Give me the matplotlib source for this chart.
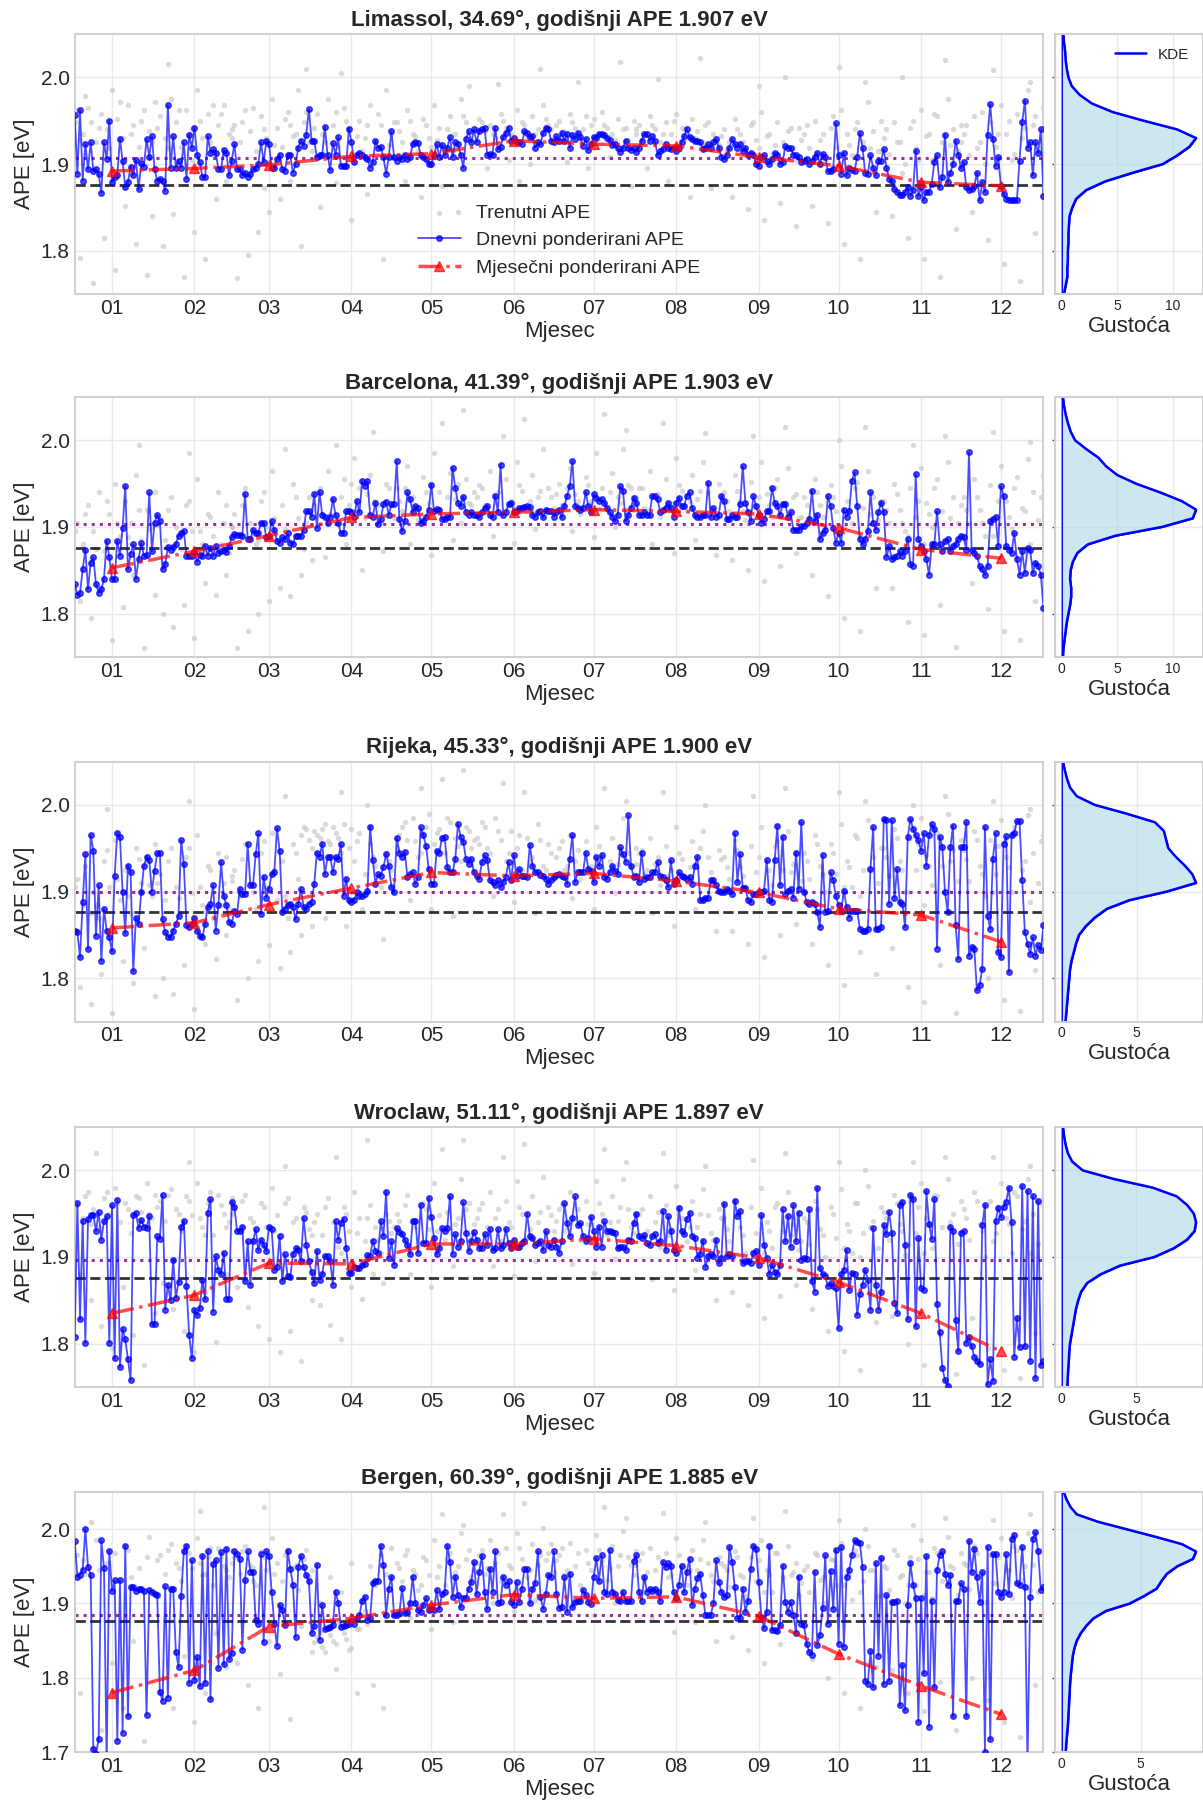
import numpy as np
import matplotlib.pyplot as plt
from matplotlib.ticker import MultipleLocator

plt.style.use('seaborn-v0_8-whitegrid')
plt.rcParams['font.family'] = ['Liberation Sans', 'DejaVu Sans']

# --- data -------------------------------------------------------------------
cities = ['Limassol', 'Barcelona', 'Rijeka', 'Wroclaw', 'Bergen']
latitudes = [34.69, 41.39, 45.33, 51.11, 60.39]
annual_ape = [1.907, 1.903, 1.900, 1.897, 1.885]
reference_ape = 1.876
ape_bottom = [1.75, 1.75, 1.75, 1.75, 1.70]

# day of year (0 = 1 Jan) of the 15th of every month
month_days = [14, 45, 73, 104, 134, 165, 195, 226, 257, 287, 318, 348]
month_labels = ['01', '02', '03', '04', '05', '06', '07', '08', '09', '10', '11', '12']

limassol_daily = [
    1.957, 1.889, 1.962, 1.881, 1.923, 1.894, 1.925, 1.892, 1.894, 1.889, 1.867, 1.925, 1.906, 1.950, 1.879, 1.885,
    1.887, 1.929, 1.903, 1.873, 1.879, 1.897, 1.887, 1.905, 1.871, 1.901, 1.897, 1.929, 1.908, 1.932, 1.894,
    1.881, 1.883, 1.880, 1.869, 1.968, 1.896, 1.932, 1.896, 1.904, 1.896, 1.925, 1.883, 1.934, 1.919, 1.942, 1.911,
    1.902, 1.885, 1.885, 1.932, 1.913, 1.917, 1.913, 1.894, 1.894, 1.916, 1.913, 1.887,
    1.904, 1.923, 1.894, 1.894, 1.887, 1.890, 1.885, 1.889, 1.894, 1.896, 1.900, 1.925, 1.902, 1.927, 1.923, 1.896,
    1.896, 1.906, 1.911, 1.894, 1.892, 1.911, 1.910, 1.890, 1.900, 1.919, 1.927, 1.921, 1.934, 1.963, 1.927,
    1.927, 1.908, 1.911, 1.911, 1.943, 1.911, 1.893, 1.924, 1.911, 1.931, 1.898, 1.898, 1.898, 1.941, 1.925, 1.902,
    1.910, 1.913, 1.910, 1.908, 1.906, 1.896, 1.902, 1.927, 1.919, 1.920, 1.908, 1.889, 1.908, 1.938,
    1.908, 1.904, 1.908, 1.906, 1.911, 1.906, 1.908, 1.923, 1.925, 1.924, 1.910, 1.908, 1.906, 1.900, 1.900, 1.910,
    1.923, 1.908, 1.922, 1.910, 1.919, 1.931, 1.908, 1.925, 1.923, 1.911, 1.896, 1.929, 1.938, 1.925, 1.940,
    1.925, 1.938, 1.940, 1.942, 1.911, 1.912, 1.911, 1.942, 1.917, 1.920, 1.931, 1.936, 1.942, 1.927, 1.930, 1.925,
    1.925, 1.923, 1.938, 1.936, 1.931, 1.932, 1.919, 1.925, 1.923, 1.936, 1.942, 1.940, 1.927, 1.925,
    1.932, 1.927, 1.936, 1.927, 1.935, 1.919, 1.934, 1.929, 1.936, 1.931, 1.921, 1.929, 1.916, 1.923, 1.931, 1.930,
    1.935, 1.935, 1.933, 1.930, 1.928, 1.922, 1.923, 1.918, 1.914, 1.918, 1.927, 1.918, 1.916, 1.918, 1.914,
    1.919, 1.927, 1.935, 1.935, 1.927, 1.932, 1.927, 1.910, 1.915, 1.917, 1.923, 1.919, 1.917, 1.919, 1.915, 1.919,
    1.925, 1.932, 1.941, 1.931, 1.929, 1.927, 1.927, 1.925, 1.917, 1.919, 1.923, 1.919, 1.925, 1.929, 1.919,
    1.908, 1.906, 1.911, 1.919, 1.929, 1.923, 1.919, 1.923, 1.915, 1.919, 1.911, 1.913, 1.910, 1.900, 1.898, 1.908,
    1.910, 1.904, 1.900, 1.906, 1.913, 1.910, 1.900, 1.902, 1.921, 1.919, 1.919, 1.911, 1.910, 1.908,
    1.902, 1.904, 1.906, 1.900, 1.904, 1.908, 1.913, 1.900, 1.912, 1.908, 1.892, 1.892, 1.894, 1.947, 1.910, 1.889,
    1.913, 1.887, 1.896, 1.893, 1.892, 1.908, 1.936, 1.919, 1.890, 1.889, 1.910, 1.896, 1.887, 1.904, 1.904,
    1.917, 1.896, 1.883, 1.881, 1.871, 1.868, 1.864, 1.864, 1.868, 1.873, 1.863, 1.870, 1.915, 1.863, 1.873, 1.858,
    1.868, 1.868, 1.877, 1.902, 1.910, 1.873, 1.885, 1.934, 1.879, 1.890, 1.900, 1.927, 1.911, 1.895,
    1.902, 1.873, 1.870, 1.871, 1.875, 1.890, 1.858, 1.879, 1.868, 1.934, 1.969, 1.929, 1.898, 1.908, 1.875, 1.866,
    1.860, 1.859, 1.858, 1.858, 1.858, 1.904, 1.948, 1.973, 1.919, 1.925, 1.887, 1.925, 1.913, 1.940, 1.863,
]
barcelona_daily = [
    1.834, 1.822, 1.824, 1.851, 1.874, 1.828, 1.859, 1.865, 1.834, 1.824, 1.828, 1.840, 1.884, 1.865, 1.840, 1.840,
    1.884, 1.867, 1.899, 1.947, 1.851, 1.869, 1.880, 1.840, 1.863, 1.881, 1.867, 1.868, 1.940, 1.872, 1.905,
    1.914, 1.907, 1.851, 1.857, 1.877, 1.874, 1.877, 1.880, 1.890, 1.893, 1.895, 1.867, 1.867, 1.867, 1.871, 1.860,
    1.868, 1.867, 1.878, 1.867, 1.876, 1.867, 1.878, 1.870, 1.872, 1.874, 1.871, 1.878,
    1.888, 1.892, 1.891, 1.891, 1.890, 1.938, 1.886, 1.886, 1.897, 1.893, 1.893, 1.905, 1.905, 1.888, 1.890, 1.907,
    1.897, 1.884, 1.882, 1.888, 1.886, 1.893, 1.882, 1.880, 1.890, 1.890, 1.890, 1.897, 1.918, 1.918, 1.912,
    1.938, 1.899, 1.940, 1.914, 1.912, 1.905, 1.912, 1.932, 1.914, 1.905, 1.893, 1.893, 1.918, 1.918, 1.917, 1.912,
    1.930, 1.917, 1.953, 1.947, 1.953, 1.914, 1.912, 1.928, 1.903, 1.909, 1.926, 1.929, 1.914, 1.926,
    1.926, 1.976, 1.909, 1.895, 1.907, 1.940, 1.932, 1.917, 1.924, 1.922, 1.905, 1.907, 1.912, 1.920, 1.949, 1.918,
    1.921, 1.920, 1.909, 1.909, 1.911, 1.912, 1.968, 1.945, 1.928, 1.924, 1.935, 1.917, 1.914, 1.917, 1.914,
    1.914, 1.912, 1.917, 1.922, 1.924, 1.914, 1.911, 1.936, 1.917, 1.972, 1.914, 1.917, 1.926, 1.928, 1.917, 1.918,
    1.922, 1.922, 1.923, 1.924, 1.923, 1.914, 1.912, 1.917, 1.918, 1.911, 1.920, 1.918, 1.918, 1.912,
    1.917, 1.920, 1.911, 1.924, 1.936, 1.947, 1.976, 1.924, 1.922, 1.920, 1.922, 1.940, 1.924, 1.917, 1.938, 1.934,
    1.930, 1.932, 1.928, 1.922, 1.917, 1.912, 1.907, 1.914, 1.947, 1.942, 1.907, 1.914, 1.922, 1.934, 1.928,
    1.914, 1.914, 1.917, 1.914, 1.914, 1.936, 1.936, 1.932, 1.917, 1.920, 1.922, 1.928, 1.922, 1.912, 1.928, 1.934,
    1.924, 1.924, 1.936, 1.940, 1.922, 1.914, 1.912, 1.911, 1.914, 1.914, 1.951, 1.911, 1.922, 1.912, 1.914,
    1.936, 1.930, 1.909, 1.909, 1.914, 1.912, 1.912, 1.926, 1.970, 1.928, 1.917, 1.907, 1.936, 1.924, 1.914, 1.905,
    1.909, 1.918, 1.918, 1.945, 1.928, 1.924, 1.914, 1.926, 1.926, 1.912, 1.917, 1.897, 1.897, 1.897,
    1.901, 1.901, 1.905, 1.909, 1.942, 1.907, 1.914, 1.886, 1.893, 1.897, 1.936, 1.924, 1.899, 1.882, 1.893, 1.882,
    1.920, 1.912, 1.918, 1.953, 1.963, 1.924, 1.886, 1.880, 1.886, 1.895, 1.940, 1.905, 1.897, 1.917, 1.928,
    1.917, 1.865, 1.878, 1.863, 1.865, 1.867, 1.872, 1.867, 1.872, 1.886, 1.857, 1.855, 1.961, 1.886, 1.878, 1.872,
    1.863, 1.845, 1.880, 1.880, 1.918, 1.880, 1.872, 1.884, 1.886, 1.872, 1.878, 1.880, 1.886, 1.890,
    1.888, 1.874, 1.986, 1.874, 1.870, 1.867, 1.855, 1.851, 1.845, 1.855, 1.907, 1.909, 1.911, 1.878, 1.947, 1.936,
    1.878, 1.874, 1.870, 1.893, 1.863, 1.845, 1.872, 1.847, 1.876, 1.874, 1.847, 1.859, 1.855, 1.845, 1.807,
]
rijeka_daily = [
    1.855, 1.853, 1.824, 1.888, 1.943, 1.834, 1.965, 1.947, 1.849, 1.907, 1.820, 1.880, 1.855, 1.847, 1.831, 1.918,
    1.968, 1.963, 1.899, 1.852, 1.930, 1.922, 1.808, 1.870, 1.862, 1.899, 1.929, 1.940, 1.936, 1.900, 1.924,
    1.944, 1.944, 1.868, 1.853, 1.848, 1.848, 1.855, 1.862, 1.872, 1.959, 1.932, 1.861, 1.859, 1.863, 1.870, 1.855,
    1.849, 1.847, 1.863, 1.882, 1.886, 1.907, 1.855, 1.884, 1.934, 1.895, 1.884, 1.865,
    1.863, 1.878, 1.874, 1.903, 1.897, 1.897, 1.955, 1.907, 1.907, 1.943, 1.967, 1.874, 1.917, 1.893, 1.903, 1.920,
    1.922, 1.973, 1.947, 1.876, 1.880, 1.884, 1.886, 1.882, 1.868, 1.886, 1.903, 1.882, 1.880, 1.886, 1.888,
    1.909, 1.945, 1.940, 1.955, 1.920, 1.940, 1.940, 1.922, 1.940, 1.938, 1.955, 1.895, 1.915, 1.890, 1.888, 1.890,
    1.899, 1.895, 1.895, 1.897, 1.901, 1.975, 1.936, 1.909, 1.920, 1.918, 1.928, 1.943, 1.930, 1.905,
    1.899, 1.962, 1.945, 1.940, 1.946, 1.917, 1.920, 1.922, 1.909, 1.917, 1.974, 1.965, 1.953, 1.926, 1.909, 1.909,
    1.947, 1.945, 1.962, 1.963, 1.928, 1.922, 1.922, 1.938, 1.978, 1.963, 1.957, 1.938, 1.932, 1.938, 1.922,
    1.918, 1.915, 1.934, 1.942, 1.936, 1.913, 1.911, 1.907, 1.913, 1.905, 1.911, 1.917, 1.934, 1.913, 1.942, 1.918,
    1.926, 1.918, 1.918, 1.917, 1.954, 1.930, 1.922, 1.922, 1.919, 1.918, 1.915, 1.909, 1.913, 1.917,
    1.919, 1.920, 1.918, 1.917, 1.909, 1.938, 1.965, 1.911, 1.922, 1.923, 1.922, 1.945, 1.926, 1.924, 1.911, 1.940,
    1.930, 1.942, 1.917, 1.915, 1.922, 1.930, 1.924, 1.920, 1.951, 1.943, 1.934, 1.988, 1.930, 1.917, 1.918,
    1.911, 1.945, 1.915, 1.917, 1.917, 1.922, 1.922, 1.934, 1.918, 1.917, 1.913, 1.905, 1.936, 1.909, 1.913, 1.922,
    1.918, 1.917, 1.915, 1.917, 1.909, 1.930, 1.940, 1.890, 1.890, 1.893, 1.893, 1.913, 1.913, 1.907, 1.901,
    1.899, 1.899, 1.903, 1.901, 1.897, 1.967, 1.911, 1.943, 1.904, 1.904, 1.890, 1.888, 1.897, 1.897, 1.899, 1.899,
    1.901, 1.936, 1.890, 1.888, 1.936, 1.976, 1.907, 1.963, 1.897, 1.901, 1.903, 1.893, 1.945, 1.903,
    1.980, 1.900, 1.888, 1.886, 1.888, 1.886, 1.876, 1.859, 1.942, 1.876, 1.878, 1.922, 1.913, 1.895, 1.884, 1.878,
    1.901, 1.882, 1.870, 1.878, 1.878, 1.878, 1.857, 1.855, 1.854, 1.857, 1.926, 1.974, 1.857, 1.857, 1.859,
    1.984, 1.982, 1.886, 1.982, 1.892, 1.926, 1.888, 1.886, 1.859, 1.963, 1.984, 1.972, 1.965, 1.959, 1.947, 1.967,
    1.930, 1.965, 1.978, 1.972, 1.834, 1.963, 1.951, 1.899, 1.876, 1.951, 1.976, 1.861, 1.822, 1.951,
    1.951, 1.980, 1.826, 1.836, 1.834, 1.786, 1.792, 1.811, 1.974, 1.872, 1.857, 1.938, 1.967, 1.830, 1.824, 1.955,
    1.964, 1.807, 1.965, 1.968, 1.981, 1.981, 1.913, 1.853, 1.840, 1.828, 1.847, 1.826, 1.838, 1.832, 1.861,
]
wroclaw_daily = [
    1.808, 1.962, 1.828, 1.942, 1.801, 1.944, 1.949, 1.949, 1.930, 1.952, 1.920, 1.941, 1.947, 1.801, 1.960, 1.783,
    1.966, 1.773, 1.817, 1.805, 1.782, 1.758, 1.949, 1.951, 1.933, 1.943, 1.935, 1.934, 1.947, 1.823, 1.823,
    1.924, 1.921, 1.972, 1.839, 1.868, 1.850, 1.897, 1.853, 1.871, 1.935, 1.942, 1.866, 1.810, 1.783, 1.839, 1.833,
    1.841, 1.874, 1.851, 1.951, 1.967, 1.837, 1.901, 1.885, 1.880, 1.905, 1.852, 1.852,
    1.964, 1.958, 1.930, 1.930, 1.935, 1.872, 1.918, 1.868, 1.918, 1.932, 1.908, 1.920, 1.914, 1.907, 1.935, 1.932,
    1.885, 1.889, 1.924, 1.872, 1.903, 1.878, 1.877, 1.903, 1.910, 1.908, 1.895, 1.945, 1.914, 1.895, 1.883,
    1.870, 1.907, 1.874, 1.880, 1.901, 1.901, 1.895, 1.868, 1.941, 1.920, 1.939, 1.944, 1.910, 1.882, 1.882, 1.889,
    1.887, 1.887, 1.891, 1.892, 1.902, 1.901, 1.919, 1.907, 1.905, 1.941, 1.924, 1.975, 1.899, 1.918,
    1.891, 1.933, 1.929, 1.926, 1.920, 1.914, 1.903, 1.942, 1.942, 1.905, 1.960, 1.916, 1.916, 1.968, 1.946, 1.922,
    1.903, 1.910, 1.933, 1.930, 1.934, 1.970, 1.904, 1.926, 1.912, 1.918, 1.963, 1.928, 1.907, 1.918, 1.929,
    1.920, 1.910, 1.910, 1.926, 1.914, 1.932, 1.908, 1.910, 1.932, 1.910, 1.914, 1.932, 1.916, 1.910, 1.920, 1.912,
    1.912, 1.916, 1.918, 1.950, 1.924, 1.922, 1.914, 1.916, 1.918, 1.908, 1.930, 1.914, 1.912, 1.920,
    1.912, 1.905, 1.918, 1.962, 1.939, 1.924, 1.945, 1.970, 1.937, 1.939, 1.924, 1.918, 1.922, 1.946, 1.930, 1.912,
    1.935, 1.912, 1.941, 1.930, 1.930, 1.929, 1.928, 1.910, 1.912, 1.912, 1.908, 1.920, 1.918, 1.939, 1.950,
    1.924, 1.922, 1.925, 1.916, 1.914, 1.924, 1.926, 1.916, 1.918, 1.953, 1.908, 1.947, 1.930, 1.908, 1.905, 1.957,
    1.930, 1.926, 1.944, 1.951, 1.924, 1.922, 1.899, 1.904, 1.919, 1.889, 1.901, 1.903, 1.901, 1.920, 1.893,
    1.899, 1.961, 1.901, 1.903, 1.901, 1.965, 1.947, 1.953, 1.893, 1.895, 1.895, 1.893, 1.905, 1.907, 1.891, 1.948,
    1.914, 1.899, 1.880, 1.891, 1.883, 1.880, 1.891, 1.955, 1.918, 1.947, 1.912, 1.960, 1.918, 1.951,
    1.897, 1.899, 1.898, 1.955, 1.872, 1.860, 1.980, 1.887, 1.880, 1.878, 1.866, 1.870, 1.866, 1.864, 1.818, 1.880,
    1.885, 1.908, 1.862, 1.882, 1.880, 1.833, 1.857, 1.868, 1.885, 1.874, 1.839, 1.934, 1.868, 1.839, 1.860,
    1.937, 1.926, 1.952, 1.928, 1.847, 1.835, 1.960, 1.964, 1.914, 1.828, 1.972, 1.967, 1.820, 1.922, 1.864, 1.862,
    1.976, 1.938, 1.921, 1.967, 1.846, 1.813, 1.772, 1.758, 1.751, 1.935, 1.930, 1.827, 1.791, 1.928,
    1.930, 1.801, 1.808, 1.797, 1.785, 1.780, 1.776, 1.937, 1.960, 1.753, 1.782, 1.757, 1.941, 1.957, 1.946, 1.958,
    1.964, 1.980, 1.940, 1.785, 1.830, 1.796, 1.982, 1.797, 1.976, 1.780, 1.970, 1.760, 1.965, 1.775, 1.780,
]
bergen_daily = [
    1.984, 1.936, 1.939, 1.945, 2.000, 1.949, 1.938, 1.704, 1.698, 1.717, 1.985, 1.948, 1.683, 1.971, 1.917, 1.931,
    1.715, 1.931, 1.726, 1.978, 1.748, 1.922, 1.922, 1.917, 1.920, 1.920, 1.917, 1.750, 1.918, 1.916, 1.913,
    1.912, 1.781, 1.769, 1.923, 1.773, 1.920, 1.920, 1.835, 1.815, 1.910, 1.970, 1.978, 1.793, 1.958, 1.797, 1.828,
    1.789, 1.964, 1.793, 1.970, 1.771, 1.953, 1.958, 1.813, 1.969, 1.818, 1.974, 1.825,
    1.833, 1.970, 1.967, 1.960, 1.838, 1.931, 1.970, 1.943, 1.942, 1.878, 1.873, 1.966, 1.848, 1.970, 1.964, 1.916,
    1.872, 1.843, 1.898, 1.891, 1.871, 1.971, 1.947, 1.925, 1.855, 1.949, 1.964, 1.949, 1.938, 1.930, 1.860,
    1.870, 1.952, 1.851, 1.898, 1.865, 1.867, 1.869, 1.871, 1.916, 1.901, 1.869, 1.870, 1.871, 1.872, 1.876, 1.873,
    1.880, 1.884, 1.904, 1.909, 1.878, 1.880, 1.928, 1.930, 1.930, 1.978, 1.952, 1.884, 1.920, 1.936,
    1.884, 1.885, 1.887, 1.921, 1.887, 1.889, 1.901, 1.936, 1.900, 1.891, 1.889, 1.898, 1.907, 1.891, 1.893, 1.891,
    1.918, 1.892, 1.913, 1.915, 1.978, 1.956, 1.909, 1.936, 1.911, 1.895, 1.908, 1.908, 1.920, 1.929, 1.956,
    1.913, 1.943, 1.964, 1.916, 1.892, 1.947, 1.916, 1.970, 1.900, 1.902, 1.936, 1.925, 1.930, 1.902, 1.898, 1.929,
    1.902, 1.920, 1.947, 1.947, 1.900, 1.920, 1.927, 1.970, 1.909, 1.893, 1.913, 1.939, 1.936, 1.970,
    1.913, 1.894, 1.895, 1.935, 1.889, 1.940, 1.895, 1.902, 1.904, 1.904, 1.918, 1.911, 1.902, 1.899, 1.936, 1.961,
    1.930, 1.965, 1.916, 1.913, 1.972, 1.916, 1.913, 1.905, 1.904, 1.916, 1.904, 1.904, 1.904, 1.957, 1.965,
    1.916, 1.903, 1.936, 1.916, 1.919, 1.917, 1.920, 1.916, 1.904, 1.956, 1.949, 1.954, 1.951, 1.916, 1.907, 1.925,
    1.951, 1.915, 1.943, 1.960, 1.898, 1.920, 1.934, 1.940, 1.911, 1.884, 1.884, 1.885, 1.900, 1.958, 1.929,
    1.916, 1.909, 1.911, 1.976, 1.956, 1.922, 1.880, 1.880, 1.920, 1.889, 1.904, 1.947, 1.978, 1.974, 1.929, 1.882,
    1.867, 1.889, 1.978, 1.864, 1.864, 1.863, 1.871, 1.951, 1.902, 1.889, 1.902, 1.885, 1.860, 1.936,
    1.873, 1.871, 1.846, 1.835, 1.831, 1.943, 1.844, 1.857, 1.894, 1.965, 1.873, 1.944, 1.893, 1.972, 1.846, 1.976,
    1.842, 1.936, 1.945, 1.965, 1.985, 1.983, 1.982, 1.949, 1.796, 1.792, 1.836, 1.787, 1.954, 1.830, 1.961,
    1.791, 1.911, 1.796, 1.902, 1.902, 1.904, 1.763, 1.817, 1.756, 1.898, 1.955, 1.925, 1.908, 1.741, 1.908, 1.806,
    1.964, 1.734, 1.904, 1.787, 1.945, 1.965, 1.970, 1.940, 1.925, 1.938, 1.748, 1.903, 1.904, 1.927,
    1.920, 1.748, 1.984, 1.942, 1.974, 1.935, 1.902, 1.942, 1.700, 1.976, 1.717, 1.966, 1.966, 1.916, 1.909, 1.916,
    1.966, 1.913, 1.987, 1.992, 1.927, 1.925, 1.976, 1.922, 1.683, 1.909, 1.987, 1.996, 1.970, 1.918, 1.922,
]

limassol_monthly = [1.892, 1.895, 1.899, 1.909, 1.912, 1.927, 1.923, 1.921, 1.908, 1.898, 1.879, 1.875]
barcelona_monthly = [1.853, 1.872, 1.890, 1.911, 1.915, 1.917, 1.920, 1.918, 1.915, 1.899, 1.874, 1.864]
rijeka_monthly = [1.858, 1.864, 1.885, 1.904, 1.922, 1.918, 1.921, 1.912, 1.899, 1.880, 1.873, 1.842]
wroclaw_monthly = [1.835, 1.856, 1.893, 1.892, 1.915, 1.915, 1.921, 1.913, 1.899, 1.871, 1.835, 1.791]
bergen_monthly = [1.780, 1.810, 1.869, 1.880, 1.898, 1.912, 1.907, 1.909, 1.883, 1.832, 1.789, 1.751]

# instantaneous APE samples: (day of year, APE in meV)
limassol_instant = [
    (1, 1962), (3, 1935), (4, 1978), (6, 1948), (8, 1925), (10, 1958), (12, 1940), (14, 1985), (16, 1952), (18, 1930),
    (20, 1968), (22, 1945), (24, 1920), (26, 1962), (28, 1938), (30, 1972), (2, 1792), (7, 1763), (11, 1815), (15, 1778),
    (19, 1852), (23, 1808), (27, 1772), (29, 1840),
    (0, 1948), (2, 1928), (5, 1965), (9, 1942), (13, 1918), (17, 1972), (21, 1935), (25, 1950), (29, 1925), (19, 1905),
    (32, 1955), (34, 1930), (36, 1975), (38, 1948), (40, 1920), (42, 1962), (44, 1940), (46, 1985), (48, 1930), (50, 1958),
    (52, 1912), (54, 1945), (56, 1968), (58, 1935), (33, 1805), (37, 1842), (41, 1770), (45, 1822), (49, 1790), (53, 1860),
    (57, 1880), (35, 2015),
    (31, 1942), (35, 1918), (39, 1962), (43, 1935), (47, 1950), (51, 1925), (55, 1958), (59, 1940), (44, 1905), (52, 1968),
    (60, 1945), (62, 1925), (64, 1962), (66, 1938), (68, 1915), (70, 1955), (72, 1930), (74, 1975), (76, 1942), (78, 1920),
    (80, 1960), (82, 1932), (84, 1985), (86, 1948), (88, 1925), (61, 1768), (65, 1795), (69, 1822), (73, 1845), (77, 1860),
    (81, 1880), (85, 1805), (87, 2010), (71, 1872),
    (59, 1930), (63, 1948), (67, 1965), (71, 1940), (75, 1922), (79, 1952), (83, 1935), (87, 1960), (89, 1915), (81, 1945),
    (91, 1958), (93, 1935), (95, 1975), (97, 1945), (99, 1920), (101, 1965), (103, 1940), (105, 1912), (107, 1950),
    (109, 1930), (111, 1968), (113, 1925), (115, 1945), (117, 1985), (119, 1935), (92, 1850), (98, 1878), (104, 1835),
    (110, 1865), (116, 1790), (100, 2005),
    (90, 1942), (94, 1925), (98, 1960), (102, 1950), (106, 1932), (110, 1945), (114, 1958), (118, 1922), (120, 1948),
    (108, 1915),
    (121, 1948), (123, 1925), (125, 1962), (127, 1935), (129, 1915), (131, 1952), (133, 1930), (135, 1968), (137, 1942),
    (139, 1920), (141, 1955), (143, 1935), (145, 1975), (147, 1948), (149, 1928), (124, 1880), (130, 1862), (138, 1875),
    (144, 1845), (148, 1990),
    (122, 1938), (126, 1950), (128, 1932), (132, 1945), (136, 1928), (140, 1940), (142, 1915), (146, 1955), (150, 1938),
    (134, 1920),
    (152, 1952), (154, 1938), (156, 1945), (158, 1930), (160, 1958), (162, 1942), (164, 1935), (166, 1962), (168, 1948),
    (170, 1932), (172, 1955), (174, 1940), (176, 1968), (178, 1945), (180, 1930), (155, 1895), (163, 1905), (171, 1900),
    (159, 1992), (175, 2010), (167, 1880),
    (151, 1940), (153, 1948), (157, 1935), (161, 1950), (165, 1928), (169, 1945), (173, 1935), (177, 1952), (179, 1940),
    (167, 1925),
    (182, 1950), (184, 1938), (186, 1958), (188, 1942), (190, 1935), (192, 1955), (194, 1945), (196, 1932), (198, 1960),
    (200, 1942), (202, 1935), (204, 1952), (206, 1940), (208, 1928), (210, 1950), (185, 1902), (193, 1895), (201, 1908),
    (189, 1995), (205, 2018), (209, 1875),
    (181, 1945), (183, 1930), (187, 1948), (191, 1940), (195, 1952), (197, 1935), (199, 1945), (203, 1928), (207, 1942),
    (211, 1935),
    (212, 1945), (214, 1932), (216, 1955), (218, 1940), (220, 1925), (222, 1948), (224, 1935), (226, 1958), (228, 1942),
    (230, 1930), (232, 1952), (234, 1938), (236, 1925), (238, 1948), (240, 1935), (242, 1922), (215, 1895), (223, 1880),
    (231, 1862), (239, 1872), (219, 1998), (235, 2022),
    (211, 1940), (213, 1928), (217, 1945), (221, 1935), (225, 1950), (227, 1922), (229, 1940), (233, 1930), (237, 1945),
    (241, 1925),
    (244, 1940), (246, 1925), (248, 1952), (250, 1935), (252, 1915), (254, 1945), (256, 1928), (258, 1960), (260, 1932),
    (262, 1912), (264, 1948), (266, 1925), (268, 1938), (270, 1918), (272, 1942), (247, 1862), (253, 1848), (259, 1835),
    (265, 1855), (271, 1828), (257, 1990), (267, 2000),
    (243, 1932), (245, 1915), (249, 1940), (251, 1925), (255, 1948), (257, 1918), (261, 1935), (263, 1922), (269, 1942),
    (271, 1905),
    (274, 1935), (276, 1918), (278, 1950), (280, 1928), (282, 1905), (284, 1942), (286, 1920), (288, 1962), (290, 1935),
    (292, 1910), (294, 1948), (296, 1925), (298, 1972), (300, 1938), (302, 1915), (277, 1852), (283, 1832), (289, 1808),
    (295, 1790), (301, 1845), (287, 2012), (297, 1995),
    (273, 1928), (275, 1945), (279, 1910), (281, 1935), (285, 1955), (291, 1922), (293, 1940), (299, 1918), (303, 1950),
    (285, 1898),
    (304, 1930), (306, 1912), (308, 1948), (310, 1925), (312, 1900), (314, 1942), (316, 1918), (318, 1962), (320, 1932),
    (322, 1905), (324, 1955), (326, 1925), (328, 1975), (330, 1940), (332, 1915), (307, 1840), (313, 1815), (319, 1790),
    (325, 1770), (331, 1825), (311, 2000), (327, 2020),
    (303, 1915), (305, 1940), (309, 1925), (315, 1950), (317, 1905), (321, 1935), (323, 1958), (329, 1922), (333, 1945),
    (311, 1890),
    (334, 1935), (336, 1910), (338, 1955), (340, 1925), (342, 1900), (344, 1948), (346, 1920), (348, 1968), (350, 1935),
    (352, 1905), (354, 1958), (356, 1930), (358, 1985), (360, 1945), (362, 1915), (364, 1965), (337, 1845), (343, 1812),
    (349, 1785), (355, 1765), (361, 1820), (345, 2008), (359, 1995),
    (333, 1925), (335, 1945), (339, 1918), (341, 1960), (347, 1935), (351, 1950), (353, 1912), (357, 1942), (363, 1928),
    (361, 1955),
]
barcelona_instant = [
    (1, 1905), (3, 1880), (5, 1925), (7, 1895), (9, 1940), (11, 1872), (13, 1915), (15, 1950), (17, 1890), (19, 1930),
    (21, 1905), (23, 1960), (25, 1885), (27, 1920), (29, 1900), (2, 1815), (6, 1795), (10, 1830), (14, 1770), (18, 1808),
    (22, 1845), (26, 1760), (30, 1822), (24, 1995),
    (0, 1895), (4, 1915), (8, 1875), (12, 1930), (16, 1905), (20, 1888), (24, 1920), (28, 1898), (30, 1940), (6, 1862),
    (32, 1910), (34, 1885), (36, 1935), (38, 1900), (40, 1875), (42, 1925), (44, 1895), (46, 1955), (48, 1880), (50, 1915),
    (52, 1890), (54, 1940), (56, 1905), (58, 1870), (33, 1800), (37, 1785), (41, 1810), (45, 1772), (49, 1835), (53, 1822),
    (57, 1845), (43, 1985),
    (31, 1902), (35, 1920), (39, 1888), (43, 1930), (47, 1895), (51, 1912), (55, 1880), (57, 1925), (59, 1900), (49, 1870),
    (60, 1915), (62, 1890), (64, 1945), (66, 1905), (68, 1880), (70, 1930), (72, 1900), (74, 1965), (76, 1885), (78, 1925),
    (80, 1895), (82, 1950), (84, 1910), (86, 1875), (88, 1935), (61, 1760), (65, 1780), (69, 1800), (73, 1815), (77, 1830),
    (81, 1820), (85, 1845), (89, 1862), (79, 1990),
    (59, 1900), (63, 1925), (67, 1892), (71, 1940), (75, 1910), (79, 1898), (83, 1935), (87, 1905), (89, 1920), (69, 1885),
    (91, 1940), (93, 1915), (95, 1965), (97, 1930), (99, 1905), (101, 1955), (103, 1925), (105, 1980), (107, 1945),
    (109, 1910), (111, 1960), (113, 1930), (115, 1905), (117, 1950), (119, 1925), (94, 1865), (102, 1880), (108, 1850),
    (116, 1872), (112, 2010), (98, 1995),
    (90, 1925), (92, 1945), (96, 1915), (100, 1935), (104, 1950), (106, 1920), (110, 1938), (114, 1925), (118, 1945),
    (120, 1910),
    (121, 1945), (123, 1918), (125, 1970), (127, 1935), (129, 1908), (131, 1958), (133, 1928), (135, 1985), (137, 1940),
    (139, 1912), (141, 1962), (143, 1932), (145, 1905), (147, 1955), (149, 1925), (126, 1880), (134, 1868), (142, 1885),
    (138, 2020), (146, 2035),
    (122, 1930), (124, 1945), (128, 1922), (132, 1940), (136, 1918), (140, 1935), (144, 1950), (148, 1928), (150, 1940),
    (130, 1910),
    (152, 1948), (154, 1925), (156, 1965), (158, 1935), (160, 1915), (162, 1955), (164, 1930), (166, 1975), (168, 1942),
    (170, 1918), (172, 1960), (174, 1935), (176, 1990), (178, 1945), (180, 1922), (157, 1890), (165, 1882), (173, 1898),
    (169, 2025), (161, 2005),
    (151, 1935), (153, 1945), (155, 1922), (159, 1940), (163, 1925), (167, 1948), (171, 1930), (175, 1942), (177, 1920),
    (179, 1935),
    (182, 1950), (184, 1925), (186, 1968), (188, 1938), (190, 1915), (192, 1958), (194, 1930), (196, 1985), (198, 1945),
    (200, 1920), (202, 1962), (204, 1935), (206, 1990), (208, 1948), (210, 1925), (187, 1895), (195, 1888), (203, 1900),
    (199, 2030), (207, 2012),
    (181, 1938), (183, 1925), (185, 1945), (189, 1930), (193, 1948), (197, 1922), (201, 1940), (205, 1928), (209, 1945),
    (211, 1932),
    (212, 1945), (214, 1922), (216, 1965), (218, 1935), (220, 1912), (222, 1955), (224, 1928), (226, 1980), (228, 1942),
    (230, 1918), (232, 1960), (234, 1932), (236, 1975), (238, 1940), (240, 1915), (242, 1950), (217, 1880), (225, 1870),
    (233, 1885), (241, 1868), (221, 2020), (237, 2008),
    (211, 1935), (213, 1945), (215, 1920), (219, 1938), (223, 1925), (227, 1948), (231, 1930), (235, 1942), (239, 1922),
    (243, 1935),
    (244, 1940), (246, 1918), (248, 1960), (250, 1930), (252, 1908), (254, 1952), (256, 1925), (258, 1975), (260, 1938),
    (262, 1912), (264, 1955), (266, 1928), (268, 1968), (270, 1935), (272, 1910), (247, 1862), (253, 1850), (259, 1838),
    (265, 1855), (271, 1870), (255, 2005), (267, 2015),
    (245, 1930), (249, 1942), (251, 1918), (257, 1935), (261, 1925), (263, 1945), (269, 1920), (271, 1938), (273, 1912),
    (259, 1905),
    (274, 1935), (276, 1910), (278, 1955), (280, 1925), (282, 1900), (284, 1948), (286, 1918), (288, 1970), (290, 1930),
    (292, 1905), (294, 1952), (296, 1922), (298, 1965), (300, 1935), (302, 1908), (277, 1845), (283, 1820), (289, 1795),
    (295, 1780), (301, 1830), (287, 2000), (297, 2015),
    (275, 1925), (279, 1940), (281, 1912), (285, 1935), (291, 1920), (293, 1945), (299, 1915), (303, 1930), (289, 1900),
    (295, 1890),
    (304, 1930), (306, 1905), (308, 1950), (310, 1920), (312, 1895), (314, 1945), (316, 1912), (318, 1968), (320, 1928),
    (322, 1900), (324, 1955), (326, 1918), (328, 1975), (330, 1935), (332, 1905), (307, 1830), (313, 1790), (319, 1775),
    (325, 1810), (331, 1762), (315, 1995), (327, 2005),
    (305, 1920), (309, 1938), (311, 1905), (317, 1930), (321, 1915), (323, 1945), (329, 1910), (333, 1925), (313, 1890),
    (319, 1880),
    (334, 1935), (336, 1905), (338, 1955), (340, 1920), (342, 1890), (344, 1948), (346, 1912), (348, 1970), (350, 1930),
    (352, 1898), (354, 1958), (356, 1922), (358, 1978), (360, 1940), (362, 1908), (364, 1960), (337, 1835), (343, 1805),
    (349, 1780), (355, 1770), (361, 1815), (345, 2010), (359, 1998),
    (335, 1920), (339, 1935), (341, 1905), (347, 1930), (351, 1912), (353, 1945), (357, 1918), (363, 1935), (345, 1890),
    (359, 1880),
]
rijeka_instant = [
    (1, 1915), (3, 1885), (5, 1945), (7, 1900), (9, 1870), (11, 1935), (13, 1905), (15, 1960), (17, 1890), (19, 1925),
    (21, 1875), (23, 1950), (25, 1910), (27, 1940), (29, 1895), (2, 1790), (6, 1770), (10, 1805), (14, 1760), (18, 1820),
    (22, 1795), (26, 1835), (30, 1780), (12, 1995),
    (0, 1905), (4, 1930), (8, 1885), (12, 1948), (16, 1915), (20, 1895), (24, 1938), (28, 1908), (30, 1955), (6, 1875),
    (32, 1920), (34, 1890), (36, 1950), (38, 1905), (40, 1875), (42, 1940), (44, 1898), (46, 1965), (48, 1885), (50, 1930),
    (52, 1870), (54, 1945), (56, 1910), (58, 1880), (33, 1800), (37, 1782), (41, 1815), (45, 1765), (49, 1840), (53, 1822),
    (57, 1850), (43, 2005),
    (31, 1910), (35, 1935), (39, 1892), (43, 1950), (47, 1905), (51, 1925), (55, 1885), (57, 1940), (59, 1918), (49, 1878),
    (60, 1925), (62, 1895), (64, 1955), (66, 1910), (68, 1880), (70, 1945), (72, 1905), (74, 1968), (76, 1890), (78, 1935),
    (80, 1870), (82, 1955), (84, 1915), (86, 1975), (88, 1960), (61, 1775), (65, 1800), (69, 1820), (73, 1838), (77, 1812),
    (81, 1830), (85, 1850), (89, 1860), (79, 2010),
    (59, 1912), (63, 1938), (67, 1900), (71, 1958), (75, 1925), (79, 1895), (83, 1945), (85, 1965), (87, 1972), (89, 1950),
    (91, 1965), (93, 1972), (95, 1958), (97, 1975), (99, 1962), (101, 1978), (103, 1950), (105, 1935), (107, 1968),
    (109, 1920), (111, 1955), (113, 1930), (115, 1905), (117, 1945), (119, 1925), (94, 1870), (102, 1860), (108, 1880),
    (116, 1845), (100, 2015), (110, 2000),
    (90, 1970), (92, 1962), (94, 1978), (96, 1955), (98, 1968), (100, 1945), (104, 1972), (106, 1958), (112, 1940),
    (118, 1935),
    (121, 1950), (123, 1975), (125, 1960), (127, 1985), (129, 1940), (131, 1968), (133, 1990), (135, 1955), (137, 1972),
    (139, 1945), (141, 1980), (143, 1962), (145, 1935), (147, 1975), (149, 1950), (126, 1890), (134, 1880), (142, 1872),
    (138, 2030), (130, 2020), (146, 2040),
    (122, 1965), (124, 1980), (128, 1958), (132, 1975), (136, 1968), (140, 1985), (144, 1952), (148, 1970), (150, 1960),
    (130, 1945),
    (152, 1955), (154, 1975), (156, 1945), (158, 1985), (160, 1960), (162, 1935), (164, 1970), (166, 1950), (168, 1925),
    (170, 1962), (172, 1940), (174, 1978), (176, 1930), (178, 1955), (180, 1915), (157, 1895), (165, 1888), (173, 1875),
    (169, 2015), (161, 2025),
    (151, 1962), (153, 1980), (155, 1950), (159, 1970), (163, 1945), (167, 1965), (171, 1935), (175, 1960), (177, 1925),
    (179, 1945),
    (182, 1950), (184, 1925), (186, 1965), (188, 1935), (190, 1915), (192, 1958), (194, 1930), (196, 1975), (198, 1940),
    (200, 1918), (202, 1962), (204, 1932), (206, 1985), (208, 1945), (210, 1920), (187, 1892), (195, 1880), (203, 1898),
    (199, 2020), (207, 2005),
    (181, 1940), (183, 1958), (185, 1930), (189, 1948), (193, 1925), (197, 1952), (201, 1935), (205, 1945), (209, 1930),
    (211, 1950),
    (212, 1945), (214, 1920), (216, 1962), (218, 1932), (220, 1908), (222, 1952), (224, 1925), (226, 1975), (228, 1938),
    (230, 1912), (232, 1958), (234, 1928), (236, 1970), (238, 1940), (240, 1910), (242, 1948), (217, 1875), (225, 1860),
    (233, 1880), (241, 1855), (221, 2015), (237, 2000),
    (211, 1932), (213, 1948), (215, 1925), (219, 1940), (223, 1918), (227, 1945), (231, 1928), (235, 1950), (239, 1922),
    (243, 1938),
    (244, 1940), (246, 1915), (248, 1960), (250, 1928), (252, 1905), (254, 1952), (256, 1922), (258, 1975), (260, 1935),
    (262, 1908), (264, 1958), (266, 1925), (268, 1970), (270, 1932), (272, 1905), (247, 1855), (253, 1840), (259, 1825),
    (265, 1850), (271, 1862), (255, 2010), (267, 2020),
    (245, 1928), (249, 1948), (251, 1918), (257, 1940), (261, 1925), (263, 1952), (269, 1922), (271, 1945), (273, 1912),
    (259, 1900),
    (274, 1945), (276, 1915), (278, 1965), (280, 1930), (282, 1900), (284, 1955), (286, 1920), (288, 1978), (290, 1935),
    (292, 1905), (294, 1962), (296, 1925), (298, 1982), (300, 1940), (302, 1910), (277, 1840), (283, 1815), (289, 1792),
    (295, 1830), (301, 1805), (287, 2015), (297, 2005),
    (275, 1935), (279, 1955), (281, 1920), (285, 1945), (291, 1928), (293, 1965), (299, 1925), (303, 1950), (289, 1905),
    (295, 1895),
    (304, 1950), (306, 1918), (308, 1972), (310, 1935), (312, 1900), (314, 1962), (316, 1925), (318, 1985), (320, 1942),
    (322, 1908), (324, 1968), (326, 1930), (328, 1990), (330, 1948), (332, 1912), (307, 1835), (313, 1790), (319, 1772),
    (325, 1815), (331, 1760), (315, 2000), (327, 2010),
    (305, 1940), (309, 1962), (311, 1925), (317, 1955), (321, 1930), (323, 1975), (329, 1935), (333, 1960), (313, 1900),
    (319, 1885),
    (334, 1948), (336, 1912), (338, 1970), (340, 1930), (342, 1895), (344, 1960), (346, 1920), (348, 1982), (350, 1940),
    (352, 1900), (354, 1968), (356, 1925), (358, 1988), (360, 1945), (362, 1910), (364, 1965), (337, 1830), (343, 1800),
    (349, 1775), (355, 1762), (361, 1810), (345, 2005), (359, 1995),
    (335, 1938), (339, 1960), (341, 1920), (347, 1952), (351, 1928), (353, 1975), (357, 1935), (363, 1958), (345, 1900),
    (359, 1888),
]
wroclaw_instant = [
    (1, 1960), (3, 1945), (5, 1975), (7, 1955), (9, 1935), (11, 1968), (13, 1950), (15, 1980), (17, 1940), (19, 1962),
    (21, 1928), (23, 1970), (25, 1952), (27, 1985), (29, 1945), (2, 1880), (6, 1850), (10, 1820), (14, 1795), (18, 1865),
    (22, 1810), (26, 1775), (30, 1835), (8, 2020),
    (0, 1958), (4, 1970), (8, 1948), (12, 1975), (16, 1962), (20, 1955), (24, 1968), (28, 1950), (30, 1972), (6, 1938),
    (32, 1965), (34, 1942), (36, 1978), (38, 1955), (40, 1930), (42, 1970), (44, 1948), (46, 1985), (48, 1935), (50, 1962),
    (52, 1925), (54, 1972), (56, 1950), (58, 1940), (33, 1870), (37, 1840), (41, 1815), (45, 1790), (49, 1860), (53, 1802),
    (57, 1880), (43, 2010),
    (31, 1958), (35, 1972), (39, 1950), (43, 1965), (47, 1945), (51, 1975), (55, 1960), (57, 1935), (59, 1968), (49, 1925),
    (60, 1955), (62, 1930), (64, 1972), (66, 1945), (68, 1918), (70, 1962), (72, 1935), (74, 1980), (76, 1948), (78, 1925),
    (80, 1968), (82, 1940), (84, 1910), (86, 1958), (88, 1932), (61, 1865), (65, 1842), (69, 1820), (73, 1805), (77, 1790),
    (81, 1815), (85, 1780), (89, 1850), (79, 2005),
    (59, 1950), (63, 1965), (67, 1940), (71, 1958), (75, 1930), (79, 1962), (83, 1945), (87, 1952), (89, 1925), (69, 1915),
    (91, 1950), (93, 1925), (95, 1968), (97, 1940), (99, 1912), (101, 1958), (103, 1930), (105, 1975), (107, 1945),
    (109, 1918), (111, 1960), (113, 1935), (115, 1905), (117, 1950), (119, 1928), (92, 1845), (96, 1822), (100, 1805),
    (104, 1865), (108, 1852), (112, 1880), (116, 1870), (110, 2035), (98, 2015),
    (90, 1940), (94, 1958), (98, 1935), (102, 1950), (106, 1928), (110, 1945), (114, 1920), (118, 1942), (120, 1935),
    (100, 1905),
    (121, 1950), (123, 1925), (125, 1972), (127, 1940), (129, 1912), (131, 1962), (133, 1932), (135, 1985), (137, 1948),
    (139, 1920), (141, 1968), (143, 1938), (145, 1990), (147, 1955), (149, 1925), (126, 1880), (134, 1865), (142, 1890),
    (138, 2025), (146, 2035),
    (122, 1942), (124, 1960), (128, 1935), (132, 1955), (136, 1930), (140, 1952), (144, 1945), (148, 1962), (150, 1938),
    (130, 1915),
    (152, 1955), (154, 1928), (156, 1975), (158, 1945), (160, 1918), (162, 1965), (164, 1935), (166, 1988), (168, 1950),
    (170, 1922), (172, 1970), (174, 1940), (176, 1992), (178, 1958), (180, 1930), (157, 1890), (165, 1878), (173, 1895),
    (169, 2030), (161, 2015),
    (151, 1945), (153, 1962), (155, 1935), (159, 1955), (163, 1940), (167, 1958), (171, 1932), (175, 1952), (177, 1928),
    (179, 1948),
    (182, 1955), (184, 1930), (186, 1975), (188, 1945), (190, 1920), (192, 1965), (194, 1938), (196, 1988), (198, 1950),
    (200, 1925), (202, 1970), (204, 1942), (206, 1990), (208, 1955), (210, 1928), (187, 1892), (195, 1882), (203, 1898),
    (199, 2025), (207, 2010),
    (181, 1942), (183, 1960), (185, 1935), (189, 1955), (193, 1938), (197, 1962), (201, 1940), (205, 1958), (209, 1935),
    (211, 1950),
    (212, 1950), (214, 1925), (216, 1970), (218, 1940), (220, 1912), (222, 1960), (224, 1932), (226, 1982), (228, 1945),
    (230, 1918), (232, 1965), (234, 1935), (236, 1978), (238, 1948), (240, 1920), (242, 1955), (217, 1875), (225, 1862),
    (233, 1885), (241, 1850), (221, 2020), (237, 2005),
    (211, 1938), (213, 1955), (215, 1930), (219, 1952), (223, 1925), (227, 1958), (231, 1935), (235, 1950), (239, 1928),
    (243, 1945),
    (244, 1945), (246, 1918), (248, 1965), (250, 1935), (252, 1905), (254, 1958), (256, 1928), (258, 1980), (260, 1940),
    (262, 1910), (264, 1962), (266, 1930), (268, 1975), (270, 1938), (272, 1908), (247, 1860), (253, 1845), (259, 1830),
    (265, 1855), (271, 1868), (255, 2012), (267, 2020),
    (245, 1932), (249, 1952), (251, 1925), (257, 1948), (261, 1930), (263, 1958), (269, 1925), (271, 1945), (273, 1918),
    (259, 1905),
    (274, 1945), (276, 1915), (278, 1965), (280, 1932), (282, 1900), (284, 1958), (286, 1922), (288, 1978), (290, 1938),
    (292, 1905), (294, 1962), (296, 1928), (298, 1982), (300, 1942), (302, 1910), (277, 1840), (283, 1815), (289, 1792),
    (295, 1770), (301, 1825), (287, 2010), (297, 2000),
    (275, 1940), (279, 1955), (281, 1925), (285, 1950), (291, 1930), (293, 1962), (299, 1935), (303, 1958), (289, 1910),
    (295, 1900),
    (304, 1952), (306, 1920), (308, 1972), (310, 1938), (312, 1902), (314, 1965), (316, 1928), (318, 1985), (320, 1945),
    (322, 1910), (324, 1970), (326, 1935), (328, 1990), (330, 1950), (332, 1915), (307, 1832), (313, 1800), (319, 1775),
    (325, 1810), (331, 1765), (315, 2010), (327, 2015),
    (305, 1945), (309, 1962), (311, 1930), (317, 1958), (321, 1938), (323, 1972), (329, 1940), (333, 1965), (313, 1915),
    (319, 1905),
    (334, 1955), (336, 1920), (338, 1975), (340, 1938), (342, 1900), (344, 1965), (346, 1928), (348, 1985), (350, 1945),
    (352, 1905), (354, 1970), (356, 1932), (358, 1990), (360, 1950), (362, 1915), (364, 1968), (337, 1830), (343, 1795),
    (349, 1770), (355, 1760), (361, 1812), (345, 2015), (359, 2005),
    (335, 1945), (339, 1965), (341, 1930), (347, 1958), (351, 1938), (353, 1975), (357, 1942), (363, 1962), (345, 1918),
    (359, 1905),
]
bergen_instant = [
    (1, 1965), (4, 1940), (8, 1985), (12, 1955), (16, 1930), (20, 1972), (24, 1948), (28, 1990), (2, 1780), (10, 1730),
    (18, 1760), (26, 1715), (14, 1820), (22, 1850), (6, 2010),
    (3, 1958), (9, 1945), (15, 1968), (21, 1935), (27, 1962),
    (32, 1965), (34, 1940), (36, 1980), (38, 1955), (40, 1930), (42, 1972), (44, 1948), (46, 1988), (48, 1938), (50, 1962),
    (52, 1925), (54, 1975), (56, 1950), (58, 1935), (33, 1800), (37, 1760), (41, 1830), (45, 1740), (49, 1780), (53, 1860),
    (57, 1815), (47, 2025),
    (31, 1958), (35, 1972), (39, 1948), (43, 1968), (47, 1955), (51, 1975), (55, 1962), (57, 1945), (59, 1970), (49, 1940),
    (60, 1962), (62, 1940), (64, 1978), (66, 1952), (68, 1925), (70, 1970), (72, 1945), (74, 1988), (76, 1955), (78, 1930),
    (80, 1972), (82, 1948), (84, 1918), (86, 1960), (88, 1935), (61, 1820), (65, 1790), (69, 1760), (73, 1850), (77, 1805),
    (81, 1745), (85, 1870), (89, 1835), (71, 2030),
    (59, 1955), (63, 1970), (67, 1948), (71, 1962), (75, 1940), (79, 1965), (83, 1952), (87, 1972), (89, 1945), (67, 1930),
    (91, 1855), (93, 1842), (95, 1868), (97, 1850), (99, 1875), (101, 1860), (103, 1838), (105, 1880), (107, 1865),
    (109, 1890), (111, 1950), (113, 1925), (115, 1965), (117, 1940), (119, 1975), (92, 1900), (96, 1935), (100, 1915),
    (104, 1955), (108, 1905), (112, 1790), (116, 1760), (98, 1812), (106, 1780),
    (90, 1848), (92, 1862), (94, 1835), (96, 1858), (98, 1845), (100, 1870), (102, 1852), (104, 1840), (106, 1865),
    (110, 1872),
    (121, 1955), (123, 1930), (125, 1972), (127, 1945), (129, 1918), (131, 1962), (133, 1938), (135, 1985), (137, 1950),
    (139, 1925), (141, 1968), (143, 1942), (145, 1995), (147, 1960), (149, 1935), (126, 1880), (134, 1865), (142, 1875),
    (138, 2020), (146, 2005),
    (122, 1948), (124, 1965), (128, 1940), (132, 1958), (136, 1935), (140, 1960), (144, 1950), (148, 1972), (150, 1945),
    (130, 1925),
    (152, 1965), (154, 1940), (156, 1985), (158, 1955), (160, 1930), (162, 1975), (164, 1948), (166, 1995), (168, 1960),
    (170, 1935), (172, 1980), (174, 1952), (176, 2002), (178, 1968), (180, 1942), (157, 1900), (165, 1890), (173, 1905),
    (169, 2035), (161, 2020),
    (151, 1955), (153, 1972), (155, 1948), (159, 1968), (163, 1952), (167, 1975), (171, 1945), (175, 1965), (177, 1958),
    (179, 1980),
    (182, 1965), (184, 1938), (186, 1982), (188, 1950), (190, 1925), (192, 1972), (194, 1945), (196, 1992), (198, 1958),
    (200, 1932), (202, 1978), (204, 1950), (206, 1998), (208, 1962), (210, 1938), (187, 1895), (195, 1885), (203, 1900),
    (199, 2030), (207, 2015),
    (181, 1958), (183, 1975), (185, 1945), (189, 1968), (193, 1955), (197, 1972), (201, 1948), (205, 1965), (209, 1952),
    (211, 1970),
    (212, 1958), (214, 1932), (216, 1975), (218, 1945), (220, 1918), (222, 1968), (224, 1940), (226, 1988), (228, 1952),
    (230, 1925), (232, 1972), (234, 1945), (236, 1985), (238, 1955), (240, 1930), (242, 1962), (217, 1880), (225, 1862),
    (233, 1875), (241, 1850), (221, 2022), (237, 2010),
    (211, 1952), (213, 1968), (215, 1942), (219, 1962), (223, 1935), (227, 1965), (231, 1945), (235, 1960), (239, 1938),
    (243, 1955),
    (244, 1950), (246, 1922), (248, 1970), (250, 1938), (252, 1910), (254, 1962), (256, 1930), (258, 1985), (260, 1945),
    (262, 1915), (264, 1968), (266, 1935), (268, 1978), (270, 1942), (272, 1912), (247, 1855), (253, 1838), (259, 1820),
    (265, 1845), (271, 1862), (255, 2015), (267, 2025),
    (245, 1945), (249, 1962), (251, 1935), (257, 1958), (261, 1940), (263, 1968), (269, 1938), (271, 1955), (273, 1928),
    (259, 1915),
    (274, 1945), (276, 1915), (278, 1968), (280, 1932), (282, 1900), (284, 1960), (286, 1925), (288, 1982), (290, 1940),
    (292, 1905), (294, 1965), (296, 1930), (298, 1978), (300, 1945), (302, 1910), (277, 1825), (283, 1800), (289, 1780),
    (295, 1760), (301, 1815), (287, 2012), (297, 2000),
    (275, 1950), (279, 1965), (281, 1935), (285, 1958), (291, 1940), (293, 1972), (299, 1945), (303, 1962), (289, 1925),
    (295, 1915),
    (304, 1950), (306, 1918), (308, 1972), (310, 1935), (312, 1900), (314, 1962), (316, 1925), (318, 1985), (320, 1942),
    (322, 1908), (324, 1968), (326, 1930), (328, 1990), (330, 1948), (332, 1912), (307, 1810), (313, 1780), (319, 1755),
    (325, 1795), (331, 1730), (315, 2005), (327, 2015),
    (305, 1948), (309, 1965), (311, 1938), (317, 1960), (321, 1942), (323, 1975), (329, 1950), (333, 1968), (313, 1925),
    (319, 1912),
    (334, 1955), (336, 1920), (338, 1978), (340, 1938), (342, 1902), (344, 1965), (346, 1928), (348, 1988), (350, 1945),
    (352, 1908), (354, 1972), (356, 1932), (358, 1995), (360, 1952), (362, 1915), (364, 1975), (337, 1800), (343, 1770),
    (349, 1740), (355, 1720), (361, 1790), (345, 2012), (359, 2020),
    (335, 1952), (339, 1968), (341, 1940), (347, 1962), (351, 1945), (353, 1978), (357, 1950), (363, 1970), (345, 1928),
    (359, 1918),
]

# kernel density of the instantaneous APE, sampled every 0.01 eV
kde_ape = [1.70, 1.71, 1.72, 1.73, 1.74, 1.75, 1.76, 1.77, 1.78, 1.79, 1.80, 1.81, 1.82, 1.83, 1.84, 1.85, 1.86, 1.87,
           1.88, 1.89, 1.90, 1.91, 1.92, 1.93, 1.94, 1.95, 1.96, 1.97, 1.98, 1.99, 2.00, 2.01, 2.02, 2.03, 2.04, 2.05]
limassol_kde = [0.0, 0.0, 0.02, 0.05, 0.1, 0.2, 0.35, 0.5, 0.5, 0.55, 0.55, 0.6, 0.6, 0.65, 0.7, 0.95, 1.3, 2.2,
                3.9, 6.4, 9.1, 10.4, 11.5, 12.1, 10.4, 7.4, 4.6, 2.7, 1.6, 0.9, 0.6, 0.45, 0.35, 0.3, 0.2, 0.14]
barcelona_kde = [0.0, 0.01, 0.02, 0.03, 0.05, 0.1, 0.15, 0.25, 0.35, 0.45, 0.6, 0.75, 0.85, 0.85, 0.75, 0.8, 1.0, 1.4,
                 2.35, 4.85, 9.0, 11.8, 12.1, 10.8, 8.85, 6.7, 5.0, 4.0, 3.3, 2.2, 1.2, 0.8, 0.55, 0.35, 0.2, 0.1]
rijeka_kde = [0.1, 0.12, 0.15, 0.18, 0.2, 0.25, 0.3, 0.35, 0.4, 0.45, 0.5, 0.55, 0.65, 0.8, 0.95, 1.15, 1.6, 2.2,
              3.0, 4.5, 7.0, 8.95, 8.7, 8.2, 7.6, 7.1, 6.95, 6.8, 6.2, 4.3, 2.2, 1.0, 0.55, 0.35, 0.2, 0.08]
wroclaw_kde = [0.15, 0.18, 0.22, 0.26, 0.3, 0.37, 0.4, 0.43, 0.47, 0.5, 0.55, 0.65, 0.75, 0.85, 0.95, 1.1, 1.3, 1.7,
               2.6, 3.9, 6.2, 7.5, 8.4, 8.9, 9.0, 8.85, 8.4, 7.7, 6.1, 3.5, 1.4, 0.7, 0.4, 0.25, 0.15, 0.08]
bergen_kde = [0.25, 0.28, 0.32, 0.36, 0.4, 0.42, 0.45, 0.47, 0.5, 0.52, 0.55, 0.6, 0.65, 0.7, 0.8, 0.95, 1.2, 1.55,
              2.0, 2.8, 4.3, 5.2, 6.0, 6.3, 6.65, 7.3, 8.3, 8.5, 7.6, 5.9, 4.1, 2.3, 0.95, 0.55, 0.3, 0.13]

daily_series = [limassol_daily, barcelona_daily, rijeka_daily, wroclaw_daily, bergen_daily]
monthly_series = [limassol_monthly, barcelona_monthly, rijeka_monthly, wroclaw_monthly, bergen_monthly]
instant_series = [limassol_instant, barcelona_instant, rijeka_instant, wroclaw_instant, bergen_instant]
kde_series = [limassol_kde, barcelona_kde, rijeka_kde, wroclaw_kde, bergen_kde]

# --- figure -----------------------------------------------------------------
fig = plt.figure(figsize=(12.03, 18.02), dpi=100)
row_bottoms = [0.8368, 0.6354, 0.4331, 0.2303, 0.0277]
row_height = 0.1443

for i, city in enumerate(cities):
    ax = fig.add_axes([0.0621, row_bottoms[i], 0.8053, row_height])
    ax_kde = fig.add_axes([0.877, row_bottoms[i], 0.1228, row_height], sharey=ax)

    inst = np.array(instant_series[i], dtype=float)
    daily = np.array(daily_series[i])
    days = np.arange(len(daily))

    ax.scatter(inst[:, 0], inst[:, 1] / 1000.0, s=15, color='#c6c6c6', alpha=0.65,
               linewidths=0, label='Trenutni APE', zorder=1)
    ax.plot(days, daily, color='blue', alpha=0.7, lw=1.3, marker='o', ms=4,
            label='Dnevni ponderirani APE', zorder=3)
    ax.plot(month_days, monthly_series[i], color='red', alpha=0.7, ls='-.', lw=2.5,
            marker='^', ms=7, label='Mjesečni ponderirani APE', zorder=4)
    ax.axhline(reference_ape, color='black', ls='--', lw=2, alpha=0.8, zorder=2)
    ax.axhline(annual_ape[i], color='purple', ls=':', lw=2.2, alpha=0.8, zorder=2)

    ax.set_xlim(0, 364)
    ax.set_ylim(ape_bottom[i], 2.05)
    ax.yaxis.set_major_locator(MultipleLocator(0.1))
    ax.set_xticks(month_days)
    ax.set_xticklabels(month_labels)
    ax.tick_params(labelsize=15, colors='#262626')
    ax.set_xlabel('Mjesec', fontsize=16, color='#262626', labelpad=2)
    ax.set_ylabel('APE [eV]', fontsize=16, color='#262626')
    ax.set_title(f'{city}, {latitudes[i]:.2f}°, godišnji APE {annual_ape[i]:.3f} eV',
                 fontsize=16, fontweight='bold', color='#262626', pad=6)
    ax.grid(True, color='#e9e9e9', lw=1)
    for sp in ax.spines.values():
        sp.set_color('#d0d0d0')
        sp.set_linewidth(1.5)

    if i == 0:
        ax.legend(loc='lower center', fontsize=14, frameon=False, handlelength=2.2)

    # density panel
    dens = kde_series[i]
    ax_kde.fill_betweenx(kde_ape, 0, dens, facecolor=(0.678, 0.847, 0.902, 0.6),
                         edgecolor='blue', lw=1)
    ax_kde.plot(dens, kde_ape, color='blue', lw=1.8, label='KDE')
    ax_kde.set_xlabel('Gustoća', fontsize=16, color='#262626', labelpad=2)
    ax_kde.tick_params(axis='x', labelsize=10, colors='#262626')
    ax_kde.tick_params(axis='y', left=True, length=2, width=1, labelleft=False, color='#444444')
    ax_kde.grid(True, color='#e9e9e9', lw=1)
    for sp in ax_kde.spines.values():
        sp.set_color('#d0d0d0')
        sp.set_linewidth(1.5)
    if i == 0:
        ax_kde.legend(loc='upper right', fontsize=11, frameon=False)

fig.savefig('out.png', dpi=100)
